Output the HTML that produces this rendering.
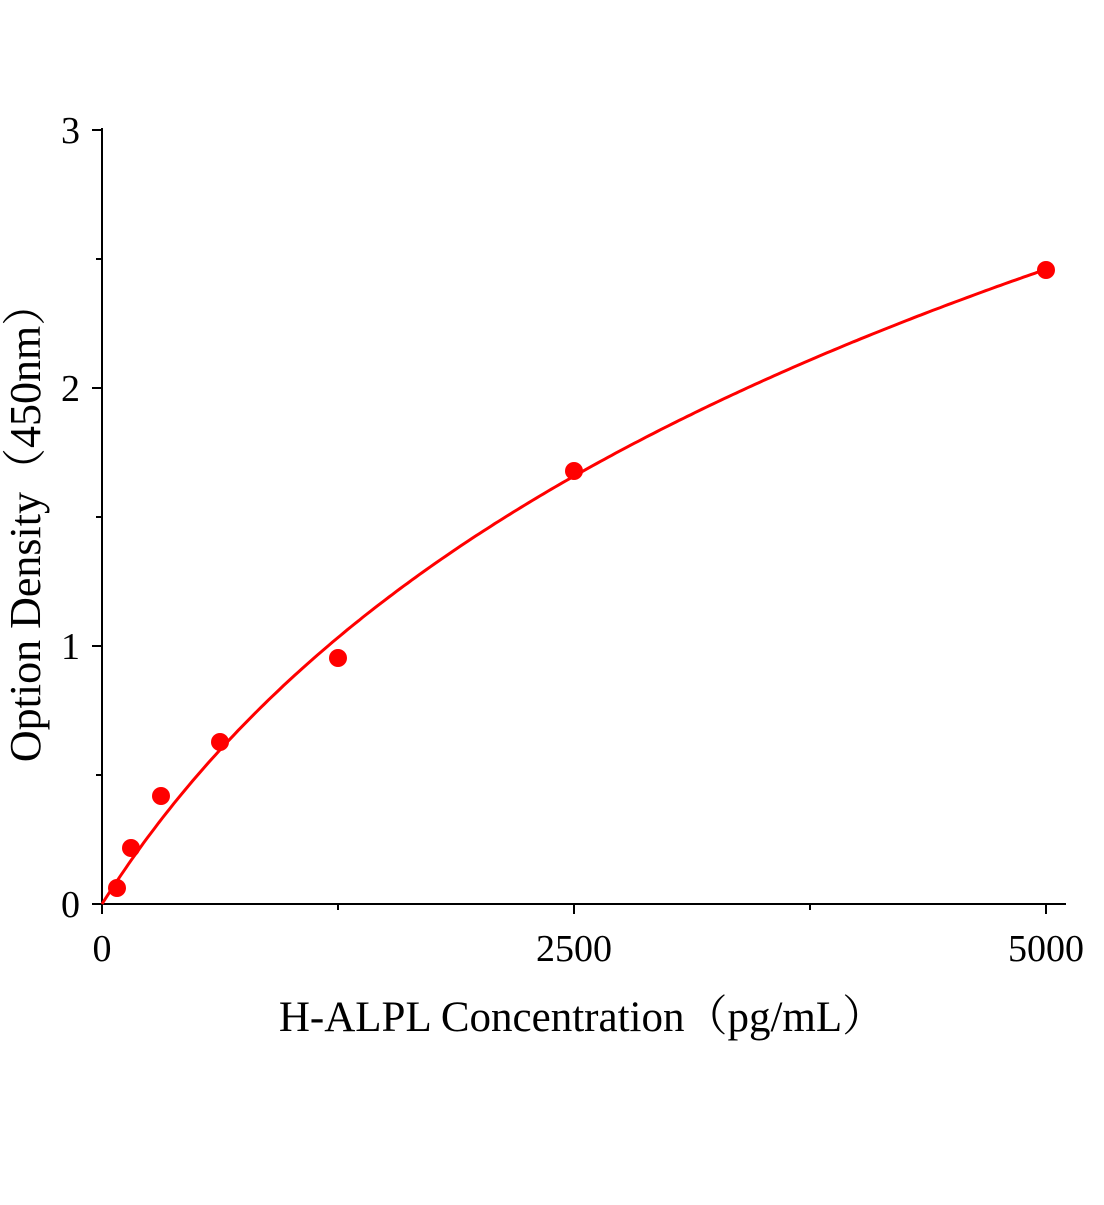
<!DOCTYPE html>
<html><head><style>body{margin:0;background:#fff}</style></head><body>
<svg id="s" width="1104" height="1200" xmlns="http://www.w3.org/2000/svg" font-family="Liberation Serif, serif">
<g stroke="#000" stroke-width="2" fill="none">
<line x1="102" y1="128" x2="102" y2="905"/>
<line x1="101" y1="904" x2="1066" y2="904"/>
<line x1="92" y1="904" x2="102" y2="904"/><line x1="92" y1="646" x2="102" y2="646"/><line x1="92" y1="388" x2="102" y2="388"/><line x1="92" y1="130" x2="102" y2="130"/>
<line x1="96" y1="775" x2="102" y2="775"/><line x1="96" y1="517" x2="102" y2="517"/><line x1="96" y1="259" x2="102" y2="259"/>
<line x1="102" y1="904" x2="102" y2="914"/><line x1="574" y1="904" x2="574" y2="914"/><line x1="1046" y1="904" x2="1046" y2="914"/>
<line x1="338" y1="904" x2="338" y2="910"/><line x1="810" y1="904" x2="810" y2="910"/>
</g>
<g font-size="38" fill="#000" text-anchor="end">
<text x="80" y="917">0</text><text x="80" y="659">1</text><text x="80" y="401">2</text><text x="80" y="143">3</text>
</g>
<g font-size="38" fill="#000" text-anchor="middle">
<text x="102" y="961">0</text><text x="574" y="961">2500</text><text x="1046" y="961">5000</text>
</g>
<text x="582" y="1031" font-size="43" text-anchor="middle" font-family="Liberation Serif, Noto Serif CJK SC, serif">H-ALPL Concentration（pg/mL）</text>
<text transform="translate(40,522) rotate(-90)" font-size="44" text-anchor="middle" font-family="Liberation Serif, Noto Serif CJK SC, serif">Option Density（450nm）</text>
<path id="c" fill="none" stroke="#f00" stroke-width="3"/>
<g fill="#f00">
<circle cx="117" cy="888" r="9"/><circle cx="131" cy="848" r="9"/><circle cx="161" cy="796" r="9"/><circle cx="220" cy="742" r="9"/><circle cx="338" cy="658" r="9"/><circle cx="574" cy="471" r="9"/><circle cx="1046" cy="270" r="9"/>
</g>
</svg>
<script>
var d="",k=1400,A=2.46/Math.log(1+5000/k);
for(var x=0;x<=5000;x+=20){var px=102+x*0.1888,py=904-258*A*Math.log(1+x/k);d+=(x?" L":"M")+px.toFixed(1)+","+py.toFixed(1);}
document.getElementById("c").setAttribute("d",d);
</script>
</body></html>
